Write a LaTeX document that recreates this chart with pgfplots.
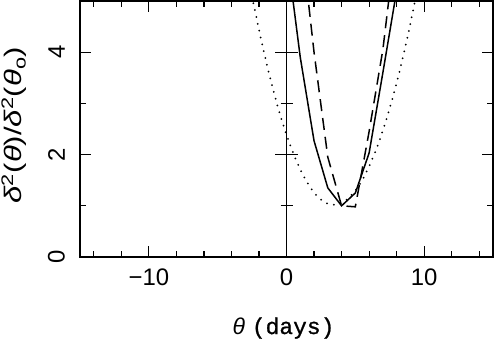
\documentclass[border=0pt]{standalone}
\usepackage{pgfplots}
\pgfplotsset{compat=1.18}
\usepackage{graphicx}
\usepackage{fontspec}
\setmainfont{Liberation Sans}
\newfontfamily\monof[FakeBold=1]{Liberation Mono}
\begin{document}
\begin{tikzpicture}
\begin{axis}[
  name=ax,
  scale only axis,
  width=413bp, height=256bp,
  xmin=-15, xmax=15, ymin=0, ymax=5,
  xtick={-10,0,10}, xticklabels={−10,0,10},
  minor xtick={-14,-12,...,14},
  ytick={0,2,4}, yticklabels={0,2,4},
  minor ytick={1,3},
  major tick length=11bp, minor tick length=6bp,
  tick style={black, line width=1.2bp},
  axis line style={black, line width=1.5bp},
  tick label style={font=\fontsize{24}{24}\selectfont},
  xticklabel style={anchor=north, inner sep=0pt, yshift=-12bp},
  yticklabel style={xshift=-15bp, rotate=90, anchor=south, inner sep=0pt},
  clip=true,
]
\addplot[black, line width=1.5bp] coordinates {
 (0,6.0) (1,3.9) (2,2.27) (3,1.35) (4,1.0) (5,1.25) (6,2.03) (7,3.6) (8,5.2)
};
\addplot[black, line width=1.5bp, dash pattern=on 12bp off 7bp] coordinates {
 (1,6.4) (2,4.0) (3,1.95) (4,1.0) (5,0.98) (6,2.45) (7,4.05) (8,6.3)
};
\addplot[black, line width=2bp, line cap=round, dash pattern=on 0bp off 7bp, smooth] coordinates {
 (-2.5,5.09) (-2,4.44) (-1.5,3.84) (-1,3.30) (-0.5,2.81) (0,2.39) (0.5,2.02)
 (1,1.71) (1.5,1.46) (2,1.26) (2.5,1.12) (3,1.04) (3.5,1.02) (4,1.05)
 (4.5,1.15) (5,1.30) (5.5,1.50) (6,1.77) (6.5,2.09) (7,2.47) (7.5,2.91)
 (8,3.40) (8.5,3.95) (9,4.56) (9.5,5.22)
};
\draw[black, line width=1.7bp] (axis cs:0,0) -- (axis cs:0,5);
\draw[black, line width=1.3bp] ([xshift=-11.5bp]axis cs:0,2) -- ([xshift=11.5bp]axis cs:0,2);
\draw[black, line width=1.3bp] ([xshift=-11.5bp]axis cs:0,4) -- ([xshift=11.5bp]axis cs:0,4);
\draw[black, line width=1.3bp] ([xshift=-6bp]axis cs:0,1) -- ([xshift=6bp]axis cs:0,1);
\draw[black, line width=1.3bp] ([xshift=-6bp]axis cs:0,3) -- ([xshift=6bp]axis cs:0,3);
\end{axis}
\node[anchor=base, font=\fontsize{23}{23}\selectfont] at ([xshift=203.5bp,yshift=-77bp]ax.south west) {{\itshape θ}\hspace{0.3em}{\monof (days)}};
\node[rotate=90, anchor=base, font=\fontsize{24}{24}\selectfont] at ([xshift=-58bp,yshift=132bp]ax.south west)
 {\scalebox{1.3}[1]{{\itshape δ}\textsuperscript{2}({\itshape θ})/{\itshape δ}\textsuperscript{2}({\itshape θ}\textsubscript{o})}};
\pgfresetboundingbox
\path[use as bounding box] ([xshift=-80bp,yshift=-86bp]ax.south west) rectangle ([xshift=2bp,yshift=1bp]ax.north east);
\end{tikzpicture}
\end{document}
